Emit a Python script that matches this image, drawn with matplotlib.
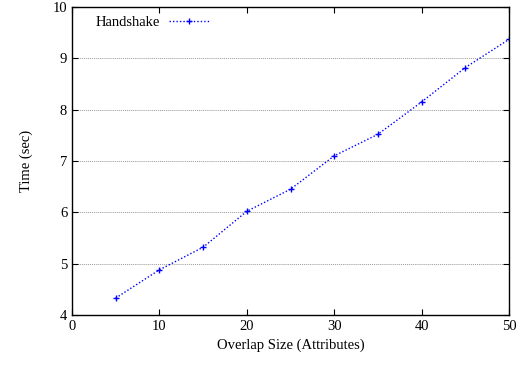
import matplotlib
matplotlib.use("Agg")
from matplotlib import pyplot as plt

plt.rcParams['font.family'] = ['Liberation Serif', 'DejaVu Serif']

overlap = [5, 10, 15, 20, 25, 30, 35, 40, 45, 50]
handshake = [4.33, 4.88, 5.32, 6.02, 6.45, 7.10, 7.52, 8.15, 8.82, 9.37]
yticks = [4, 5, 6, 7, 8, 9, 10]
xticks = [0, 10, 20, 30, 40, 50]

fig = plt.figure(figsize=(5.25, 3.69), dpi=100)
ax = fig.add_axes([72 / 525, 1 - 315 / 369, (509 - 72) / 525, (315 - 7) / 369])

ax.plot(overlap, handshake, color='#0000ff', linestyle=(0, (1, 1.5)), linewidth=1.0,
        marker='+', markersize=5, markeredgewidth=1.0, label='Handshake')

ax.set_xlim(0, 50)
ax.set_ylim(4, 10)
ax.set_xticks(xticks)
ax.set_yticks(yticks)
for y in yticks[1:-1]:
    ax.axhline(y, color='#999999', linestyle=(0, (1, 1)), linewidth=0.7, zorder=0)

ax.tick_params(direction='in', top=True, right=True, length=4, width=0.8, labelsize=10.5)
for s in ax.spines.values():
    s.set_linewidth(1.0)

ax.set_xlabel('Overlap Size (Attributes)', fontsize=10.5)
ax.set_ylabel('Time (sec)', fontsize=10.5, labelpad=14)

ax.legend(loc='upper left', frameon=False, markerfirst=False, fontsize=10.5,
          handlelength=2.7, handletextpad=0.6, bbox_to_anchor=(0.025, 1.015))

fig.savefig('out.png', dpi=100)
